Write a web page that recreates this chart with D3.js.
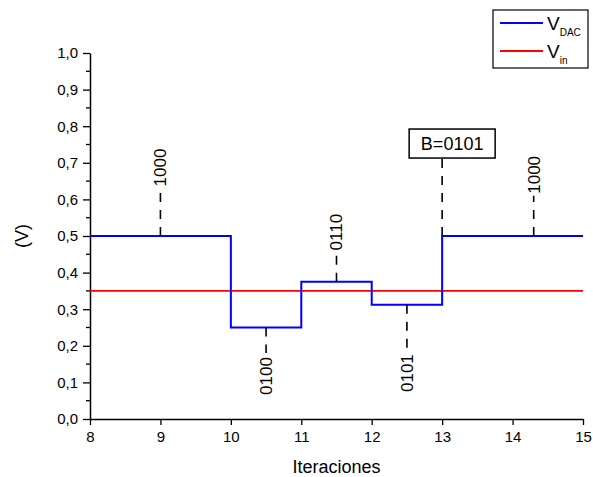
<!DOCTYPE html>
<html>
<head>
<meta charset="utf-8">
<script src="https://cdn.jsdelivr.net/npm/d3@7"></script>
<style>
  body { margin: 0; background: #fff; }
  svg { display: block; font-family: "Liberation Sans", Arial, sans-serif; }
</style>
</head>
<body>
<svg id="chart" width="593" height="477"></svg>
<script>
// step edges (iterations) and DAC level held on each step
const iterEdges = [8, 10, 11, 12, 13, 15];
const vdacLevels = [0.5, 0.25, 0.375, 0.3125, 0.5];
const vinLevel = 0.35;

const xTicks = [8, 9, 10, 11, 12, 13, 14, 15];
const yTicks = [0, 0.1, 0.2, 0.3, 0.4, 0.5, 0.6, 0.7, 0.8, 0.9, 1.0];

// code labels: iteration, level the dashed line starts at, level it ends at
const codeIter = [9, 10.5, 11.5, 12.5, 14.3];
const codeFrom = [0.5, 0.25, 0.375, 0.3125, 0.5];
const codeTo = [0.63, 0.18, 0.455, 0.188, 0.61];
const codeText = ["1000", "0100", "0110", "0101", "1000"];

const resultIter = 13;
const resultFrom = 0.5;
const resultTo = 0.713;
const resultText = "B=0101";

const svg = d3.select("#chart");
const x = d3.scaleLinear().domain([8, 15]).range([90, 583]);
const y = d3.scaleLinear().domain([0, 1]).range([419, 53]);

const comma = d => d3.format(".1f")(d).replace(".", ",");

// minor y ticks
const minor = d3.range(0.05, 1, 0.1);
svg.append("g")
  .selectAll("line")
  .data(minor)
  .join("line")
  .attr("x1", x(8) - 4).attr("x2", x(8))
  .attr("y1", d => y(d)).attr("y2", d => y(d))
  .attr("stroke", "#000").attr("stroke-width", 1.3);

const yAxis = svg.append("g")
  .attr("transform", `translate(${x(8)},0)`)
  .call(d3.axisLeft(y).tickValues(yTicks).tickFormat(comma).tickSize(7).tickSizeOuter(0).tickPadding(5));

const xAxis = svg.append("g")
  .attr("transform", `translate(0,${y(0)})`)
  .call(d3.axisBottom(x).tickValues(xTicks).tickFormat(d3.format("d")).tickSize(6).tickSizeOuter(0).tickPadding(6));

[yAxis, xAxis].forEach(g => {
  g.select(".domain").attr("stroke", "#000").attr("stroke-width", 1.5);
  g.selectAll(".tick line").attr("stroke", "#000").attr("stroke-width", 1.3);
  g.selectAll(".tick text").attr("fill", "#000").style("font-size", "15px")
    .style("font-family", "'Liberation Sans', Arial, sans-serif");
});

// axis titles
svg.append("text")
  .attr("x", (x(8) + x(15)) / 2)
  .attr("y", 473)
  .attr("text-anchor", "middle")
  .style("font-size", "18px")
  .text("Iteraciones");

svg.append("text")
  .attr("transform", `translate(28,${(y(0) + y(1)) / 2}) rotate(-90)`)
  .attr("text-anchor", "middle")
  .style("font-size", "18px")
  .text("(V)");

// series
const stepPts = iterEdges.map((e, i) => [e, vdacLevels[Math.min(i, vdacLevels.length - 1)]]);
const line = d3.line().x(d => x(d[0])).y(d => y(d[1])).curve(d3.curveStepAfter);

svg.append("path")
  .datum([[8, vinLevel], [15, vinLevel]])
  .attr("d", line)
  .attr("fill", "none")
  .attr("stroke", "#ff0000")
  .attr("stroke-width", 1.8);

svg.append("path")
  .datum(stepPts)
  .attr("d", line)
  .attr("fill", "none")
  .attr("stroke", "#0000ff")
  .attr("stroke-width", 2);

// code annotations
const ann = svg.append("g");
codeIter.forEach((it, i) => {
  const px = x(it);
  const y0 = y(codeFrom[i]);
  const y1 = y(codeTo[i]);
  const up = y1 < y0;
  ann.append("line")
    .attr("x1", px).attr("x2", px)
    .attr("y1", y0).attr("y2", y1)
    .attr("stroke", "#000")
    .attr("stroke-width", 1.6)
    .attr("stroke-dasharray", "9,8");
  ann.append("text")
    .attr("transform", `translate(${px},${up ? y1 - 2 : y1 + 4}) rotate(-90)`)
    .attr("text-anchor", up ? "start" : "end")
    .attr("dy", "0.35em")
    .style("font-size", "17px")
    .text(codeText[i]);
});

// result box
{
  const px = x(resultIter);
  const top = y(resultTo);
  ann.append("line")
    .attr("x1", px).attr("x2", px)
    .attr("y1", y(resultFrom)).attr("y2", top)
    .attr("stroke", "#000")
    .attr("stroke-width", 1.6)
    .attr("stroke-dasharray", "9,8");
  const bw = 86, bh = 29, cx = px + 10;
  ann.append("rect")
    .attr("x", cx - bw / 2).attr("y", top - bh)
    .attr("width", bw).attr("height", bh)
    .attr("fill", "#fff").attr("stroke", "#000").attr("stroke-width", 1.5);
  ann.append("text")
    .attr("x", cx).attr("y", top - bh / 2)
    .attr("dy", "0.36em")
    .attr("text-anchor", "middle")
    .style("font-size", "18px")
    .text(resultText);
}

// legend
const lg = svg.append("g");
lg.append("rect")
  .attr("x", 493).attr("y", 10).attr("width", 95).attr("height", 58)
  .attr("fill", "#fff").attr("stroke", "#000").attr("stroke-width", 1.2);
const legendItems = [
  { color: "#0000ff", sub: "DAC", ly: 23 },
  { color: "#ff0000", sub: "in", ly: 51 }
];
legendItems.forEach(d => {
  lg.append("line")
    .attr("x1", 500).attr("x2", 543)
    .attr("y1", d.ly).attr("y2", d.ly)
    .attr("stroke", d.color).attr("stroke-width", 2);
  const t = lg.append("text").attr("x", 547).attr("y", d.ly + 7).style("font-size", "19px");
  t.append("tspan").text("V");
  t.append("tspan").attr("dy", 6).style("font-size", "10px").text(d.sub);
});
</script>
</body>
</html>
